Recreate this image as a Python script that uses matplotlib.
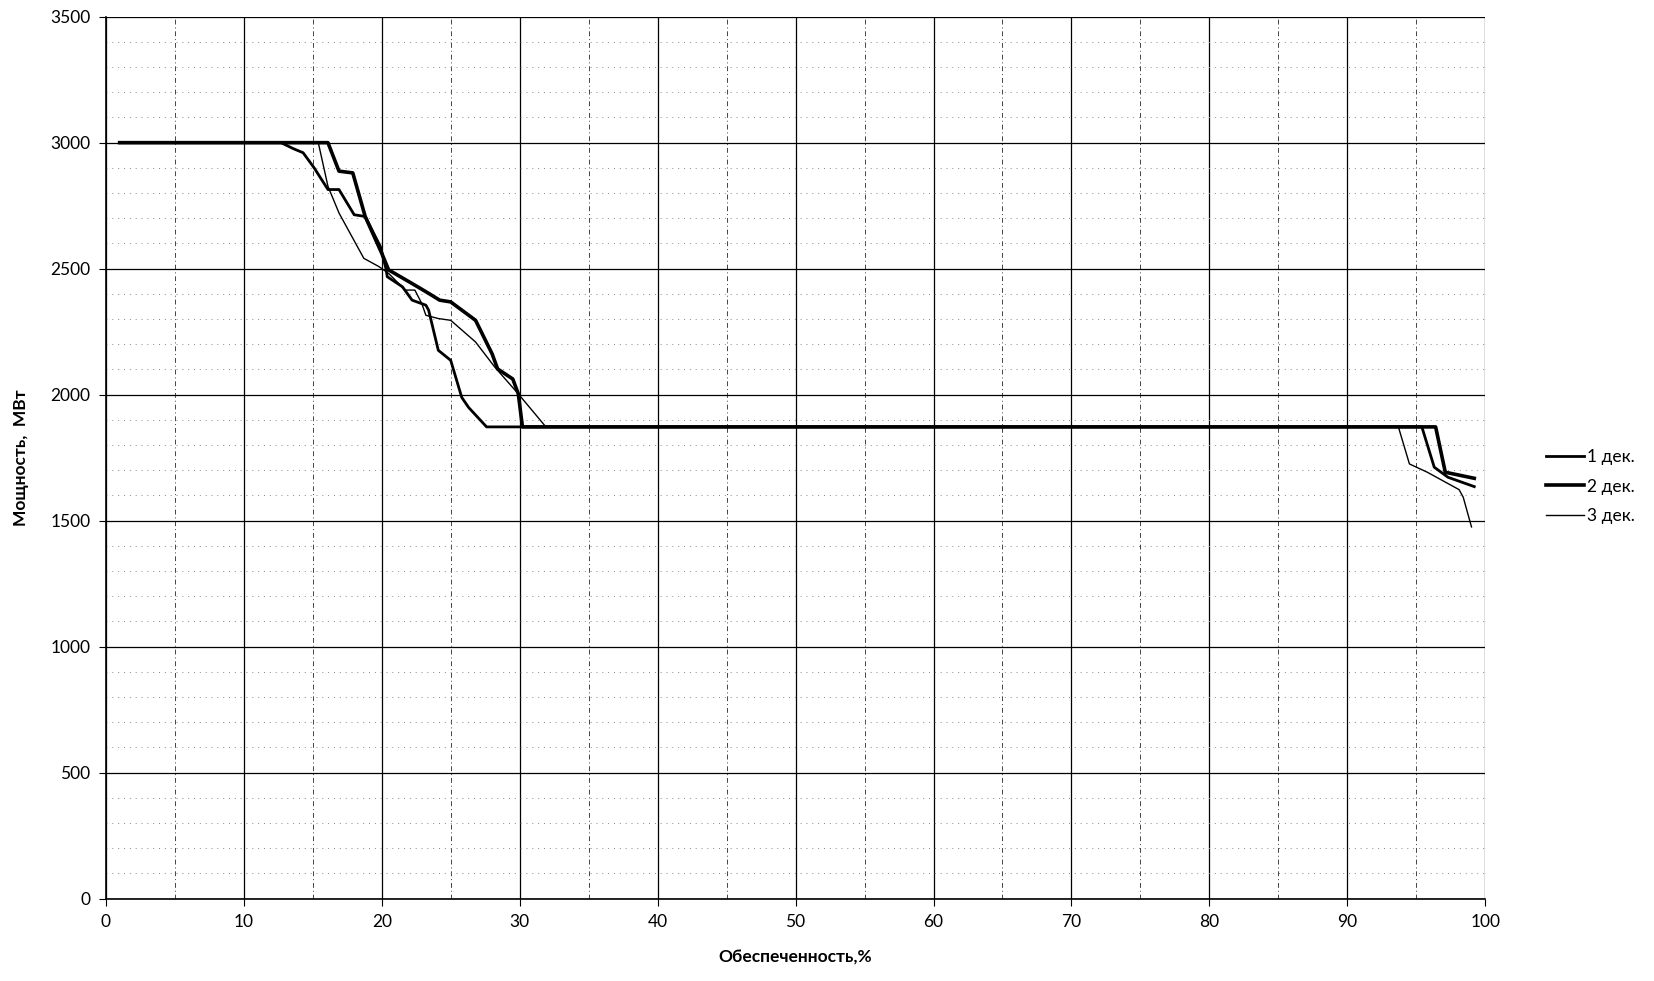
import numpy as np
import matplotlib
matplotlib.use("Agg")
import matplotlib.pyplot as plt
from matplotlib.ticker import MultipleLocator

plt.rcParams['font.family'] = ['Lato', 'DejaVu Sans']

# 1 дек.
x1 = [1, 12.7, 13.6, 14.3, 15.1, 16.1, 16.9, 18.0, 18.8, 19.9, 20.3, 20.4, 21.5, 22.2, 23.2, 23.4,
      24.1, 25.0, 25.8, 26.3, 27.6, 95.4, 96.3, 97.3, 99.2]
y1 = [3000, 3000, 2976, 2960, 2900, 2814, 2814, 2714, 2707, 2588, 2501, 2468, 2428, 2375, 2355, 2335,
      2176, 2136, 1989, 1949, 1872, 1872, 1712, 1672, 1635]

# 2 дек.
x2 = [1, 16.1, 16.9, 17.9, 18.8, 20.0, 20.5, 22.2, 23.4, 24.2, 25.0, 26.8, 28.0, 28.4, 29.5, 29.9,
      30.2, 96.4, 97.1, 99.2]
y2 = [3000, 3000, 2887, 2880, 2707, 2561, 2495, 2441, 2402, 2375, 2368, 2295, 2162, 2102, 2062, 2003,
      1872, 1872, 1692, 1668]

# 3 дек.
x3 = [1, 15.4, 16.1, 16.9, 18.7, 19.8, 20.5, 21.7, 22.4, 22.9, 23.2, 24.1, 25.0, 26.8, 28.2, 29.9,
      31.9, 93.7, 94.5, 95.8, 98.1, 98.4, 99.0]
y3 = [3000, 3000, 2827, 2721, 2541, 2508, 2481, 2415, 2415, 2362, 2315, 2302, 2295, 2209, 2109, 2003,
      1872, 1872, 1725, 1692, 1623, 1593, 1475]

fig = plt.figure(figsize=(16.54, 9.81), dpi=100)
ax = fig.add_axes([0.064, 0.084, 0.834, 0.899])

ax.plot(x1, y1, color="black", linewidth=2.0, label="1 дек.")
ax.plot(x2, y2, color="black", linewidth=2.6, label="2 дек.")
ax.plot(x3, y3, color="black", linewidth=1.0, label="3 дек.")

ax.set_xlim(0, 100)
ax.set_ylim(0, 3500)
ax.xaxis.set_major_locator(MultipleLocator(10))
ax.xaxis.set_minor_locator(MultipleLocator(5))
ax.yaxis.set_major_locator(MultipleLocator(500))
ax.yaxis.set_minor_locator(MultipleLocator(100))

# grid: solid major lines, sparse dotted minor lines
ax.grid(which="major", color="black", linewidth=0.9)
ax.grid(which="minor", axis="y", color="#888888", linestyle=(0, (1, 5)), linewidth=0.7)
ax.grid(which="minor", axis="x", color="#444444", linestyle=(0, (5, 3, 1, 3)), linewidth=0.7)
ax.set_axisbelow(True)

for s in ["top", "right"]:
    ax.spines[s].set_visible(False)
ax.spines["left"].set_linewidth(1.2)
ax.spines["bottom"].set_linewidth(1.2)

ax.tick_params(which="major", direction="out", length=5, labelsize=12.5, pad=6)
ax.tick_params(which="minor", length=0)

ax.set_xlabel("Обеспеченность,%", fontsize=12.5, fontweight="bold", labelpad=14)
ax.set_ylabel("Мощность,  МВт", fontsize=12.5, fontweight="bold", labelpad=15)

fig.legend(loc="center left", bbox_to_anchor=(0.925, 0.504), frameon=False, fontsize=12.5,
           handlelength=2.2, handletextpad=0.2, labelspacing=0.8)

fig.savefig("out.png", dpi=100)
